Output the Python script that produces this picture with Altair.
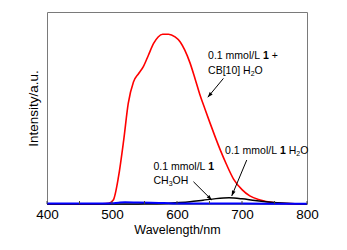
import altair as alt
import pandas as pd
import numpy as np

# ---------------- data ----------------
red_nm = [400, 470, 485, 495, 502, 510, 518, 525, 533, 541, 548, 556, 564, 571, 578,
          587, 597, 605, 612, 620, 628, 635, 643, 651, 659, 667, 676, 687, 700,
          712, 728, 748, 770, 800]
red_val = [0, 0, 1, 4, 21, 142, 333, 524, 636, 680, 714, 775, 836, 870, 884,
           884, 870, 844, 801, 735, 650, 572, 495, 420, 347, 278, 207, 130, 75,
           42, 21, 7, 2, 0]

black_nm = [400, 500, 550, 580, 600, 620, 640, 660, 680, 700, 720, 740, 768, 800]
black_val = [0, 0, 1, 3, 7, 12, 20, 28, 32, 27, 18, 11, 4, 0]

blue_nm = [400, 480, 500, 510, 520, 540, 560, 580, 600, 650, 700, 800]
blue_val = [3, 3, 4, 7, 9, 8, 7, 5, 3, 2, 2, 1]

x_tick_marks = [400, 450, 500, 550, 600, 650, 700, 750, 800]
x_tick_labels = [400, 500, 600, 700, 800]

# annotation texts: (x nm, y value, pieces); piece style n=normal, b=bold, s=subscript
annotations = [
    (647.8, 770, [("0.1 mmol/L ", "n"), ("1", "b"), (" +", "n")]),
    (647.8, 693, [("CB[10] H", "n"), ("2", "s"), ("O", "n")]),
    (674.0, 277, [("0.1 mmol/L ", "n"), ("1", "b"), (" H", "n"), ("2", "s"), ("O", "n")]),
    (563.8, 194, [("0.1 mmol/L ", "n"), ("1", "b")]),
    (563.8, 120, [("CH", "n"), ("3", "s"), ("OH", "n")]),
]

# arrows: (x start, y start, x end, y end)
arrows = [
    (671.4, 654, 647.4, 556),
    (707.3, 229, 684.2, 42),
    (625.3, 116, 653.5, 21),
]

# ---------------- layout / style ----------------
W, H = 260, 192
FONT = "Liberation Sans, Arial, Helvetica, sans-serif"
FS = 10.5
SUB_FS = 7.0

xs = alt.Scale(domain=[400, 800], nice=False, zero=False)
ys = alt.Scale(domain=[0, 1000], nice=False)

char_w = {'0': 556, '1': 556, '2': 556, '3': 556, '.': 278, ' ': 278, 'm': 833, 'o': 556,
          'l': 222, '/': 278, 'L': 556, '+': 584, 'C': 722, 'B': 667, '[': 278, ']': 278,
          'H': 722, 'O': 778}


def text_width(s, size):
    return sum(char_w.get(c, 556) for c in s) / 1000.0 * size


def line_df(nm, val, name):
    return pd.DataFrame({"nm": nm, "val": val, "s": name})


def curve(df, color, width):
    return alt.Chart(df).mark_line(color=color, strokeWidth=width, interpolate="monotone").encode(
        x=alt.X("nm:Q", scale=xs,
                axis=alt.Axis(values=x_tick_labels, title="Wavelength/nm", ticks=False, domain=False,
                              grid=False, labelFontSize=13.5, labelFont=FONT, labelColor="black",
                              labelPadding=3, titleFontSize=12.5, titleFont=FONT, titleColor="black",
                              titleFontWeight="normal", titlePadding=3, labelFlush=False)),
        y=alt.Y("val:Q", scale=ys,
                axis=alt.Axis(title="Intensity/a.u.", labels=False, ticks=False, domain=False,
                              grid=False, titleFontSize=13.5, titleFont=FONT, titleColor="black",
                              titleFontWeight="normal", titlePadding=7)),
    )


red = curve(line_df(red_nm, red_val, "red"), "#ff0000", 1.6)
black = curve(line_df(black_nm, black_val, "black"), "#000000", 1.5)
blue = curve(line_df(blue_nm, blue_val, "blue"), "#0000ff", 2.0)

ticks = alt.Chart(pd.DataFrame({"t": x_tick_marks})).mark_rule(color="#444444", strokeWidth=1).encode(
    x=alt.X("t:Q", scale=xs),
    y=alt.value(H - 3),
    y2=alt.value(H),
)

# arrows
rows = []
heads = []
for i, (x1, y1, x2, y2) in enumerate(arrows):
    rows.append({"a": i, "o": 0, "x": x1, "y": y1})
    rows.append({"a": i, "o": 1, "x": x2, "y": y2})
    dxp = (x2 - x1) * W / 400.0
    dyp = -(y2 - y1) * H / 1000.0
    ang = (np.degrees(np.arctan2(dxp, -dyp)) + 360.0) % 360.0
    heads.append({"x": x2, "y": y2, "ang": float(ang)})

arrow_lines = alt.Chart(pd.DataFrame(rows)).mark_line(color="black", strokeWidth=1).encode(
    x=alt.X("x:Q", scale=xs), y=alt.Y("y:Q", scale=ys), detail="a:N", order="o:Q")
arrow_heads = alt.Chart(pd.DataFrame(heads)).mark_point(
    shape="M0,0L-0.36,1L0.36,1Z", filled=True, color="black", opacity=1, size=110, strokeWidth=0
).encode(x=alt.X("x:Q", scale=xs), y=alt.Y("y:Q", scale=ys), angle=alt.Angle("ang:Q", scale=None))

# text pieces (leading/trailing spaces are turned into offsets, since SVG drops them)
text_layers = []
for (tx, ty, pieces) in annotations:
    off = 0.0
    for (s, style) in pieces:
        size = SUB_FS if style == "s" else FS
        weight = "bold" if style == "b" else "normal"
        dy = 3 if style == "s" else 0
        lead = len(s) - len(s.lstrip(" "))
        off += text_width(" " * lead, FS)
        core = s.strip(" ")
        t = alt.Chart(pd.DataFrame({"x": [tx], "y": [ty], "t": [core]})).mark_text(
            align="left", baseline="middle", font=FONT, fontSize=size, fontWeight=weight,
            color="black", dx=off, dy=dy
        ).encode(x=alt.X("x:Q", scale=xs), y=alt.Y("y:Q", scale=ys), text="t:N")
        text_layers.append(t)
        off += text_width(s.lstrip(" "), size)

chart = alt.layer(red, black, blue, ticks, arrow_lines, arrow_heads, *text_layers).properties(
    width=W, height=H,
    autosize=alt.AutoSizeParams(type="none"),
    padding={"left": 47, "top": 12, "right": 40, "bottom": 46},
    background="white",
).configure_view(stroke="#7a7a7a", strokeWidth=1)

chart.save("out.html", embed_options={"renderer": "svg", "actions": False})
